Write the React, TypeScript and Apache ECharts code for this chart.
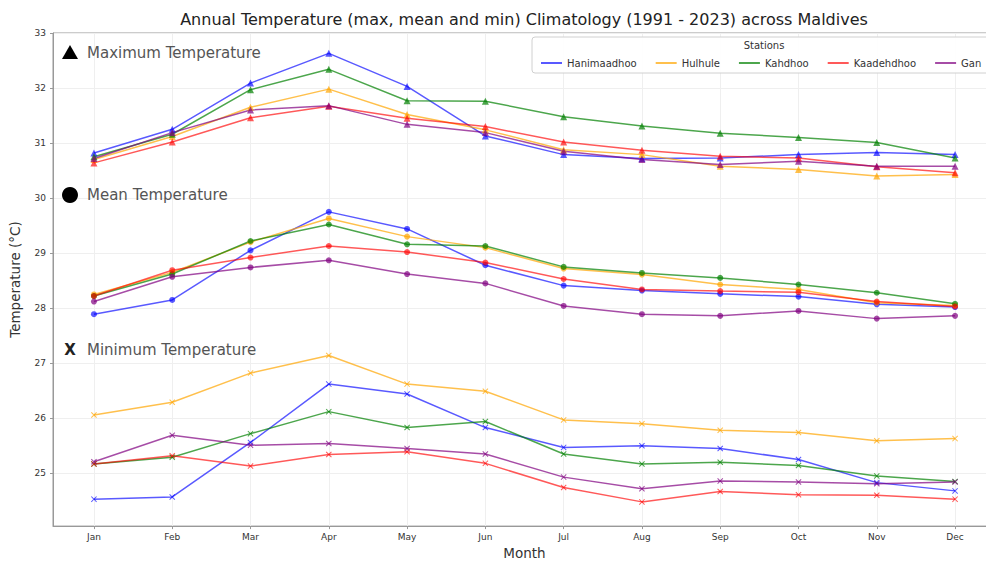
import React, { useEffect, useRef } from "react";
import * as echarts from "echarts";

const months = ["Jan", "Feb", "Mar", "Apr", "May", "Jun", "Jul", "Aug", "Sep", "Oct", "Nov", "Dec"];
const stations = ["Hanimaadhoo", "Hulhule", "Kahdhoo", "Kaadehdhoo", "Gan"];
const yTicks = [25, 26, 27, 28, 29, 30, 31, 32, 33];

const maxHanimaadhoo = [30.82, 31.25, 32.09, 32.63, 32.03, 31.13, 30.79, 30.72, 30.73, 30.79, 30.83, 30.79];
const maxHulhule = [30.7, 31.12, 31.65, 31.98, 31.52, 31.24, 30.88, 30.79, 30.58, 30.52, 30.4, 30.43];
const maxKahdhoo = [30.75, 31.16, 31.97, 32.34, 31.77, 31.76, 31.48, 31.31, 31.18, 31.1, 31.01, 30.73];
const maxKaadehdhoo = [30.64, 31.02, 31.46, 31.67, 31.45, 31.3, 31.02, 30.87, 30.76, 30.73, 30.57, 30.46];
const maxGan = [30.72, 31.19, 31.6, 31.68, 31.34, 31.19, 30.85, 30.7, 30.61, 30.67, 30.58, 30.58];

const meanHanimaadhoo = [27.89, 28.15, 29.05, 29.75, 29.44, 28.78, 28.41, 28.32, 28.26, 28.21, 28.07, 28.02];
const meanHulhule = [28.25, 28.65, 29.2, 29.63, 29.3, 29.1, 28.72, 28.61, 28.43, 28.34, 28.1, 28.05];
const meanKahdhoo = [28.22, 28.62, 29.22, 29.52, 29.16, 29.13, 28.75, 28.64, 28.55, 28.43, 28.28, 28.08];
const meanKaadehdhoo = [28.22, 28.69, 28.92, 29.13, 29.02, 28.83, 28.53, 28.34, 28.31, 28.29, 28.12, 28.03];
const meanGan = [28.12, 28.57, 28.74, 28.87, 28.62, 28.45, 28.04, 27.89, 27.86, 27.95, 27.81, 27.86];

const minHanimaadhoo = [24.53, 24.57, 25.56, 26.62, 26.44, 25.83, 25.47, 25.5, 25.45, 25.25, 24.83, 24.68];
const minHulhule = [26.06, 26.29, 26.82, 27.14, 26.62, 26.49, 25.97, 25.9, 25.78, 25.74, 25.59, 25.63];
const minKahdhoo = [25.17, 25.29, 25.72, 26.12, 25.83, 25.94, 25.35, 25.17, 25.2, 25.14, 24.95, 24.85];
const minKaadehdhoo = [25.17, 25.32, 25.13, 25.34, 25.39, 25.18, 24.74, 24.48, 24.67, 24.61, 24.6, 24.53];
const minGan = [25.21, 25.69, 25.51, 25.54, 25.45, 25.35, 24.93, 24.72, 24.86, 24.84, 24.81, 24.84];

const maxSeries = [maxHanimaadhoo, maxHulhule, maxKahdhoo, maxKaadehdhoo, maxGan];
const meanSeries = [meanHanimaadhoo, meanHulhule, meanKahdhoo, meanKaadehdhoo, meanGan];
const minSeries = [minHanimaadhoo, minHulhule, minKahdhoo, minKaadehdhoo, minGan];

const colors = [
  "rgba(0,0,255,0.65)",
  "rgba(255,165,0,0.7)",
  "rgba(0,128,0,0.7)",
  "rgba(255,0,0,0.65)",
  "rgba(128,0,128,0.7)",
];

const X_SYMBOL =
  "path://M0,1.2 L1.2,0 L5,3.8 L8.8,0 L10,1.2 L6.2,5 L10,8.8 L8.8,10 L5,6.2 L1.2,10 L0,8.8 L3.8,5 Z";

const FONT = "DejaVu Sans";

export default function App() {
  const ref = useRef<HTMLDivElement>(null);
  useEffect(() => {
    if (!ref.current) return;
    const chart = echarts.init(ref.current, undefined, { renderer: "svg" });
    const series: any[] = [];
    const groups = [
      { arr: maxSeries, symbol: "triangle", size: 7 },
      { arr: meanSeries, symbol: "circle", size: 6 },
      { arr: minSeries, symbol: X_SYMBOL, size: 6 },
    ];
    groups.forEach((g) => {
      g.arr.forEach((vals, i) => {
        series.push({
          name: stations[i],
          type: "line",
          data: vals.map((v, k) => [k, v]),
          symbol: g.symbol,
          symbolSize: g.size,
          showSymbol: true,
          lineStyle: { color: colors[i], width: 1.5 },
          itemStyle: { color: colors[i] },
          color: colors[i],
          z: 3,
        });
      });
    });

    chart.setOption({
      animation: false,
      backgroundColor: "#ffffff",
      textStyle: { fontFamily: FONT },
      grid: {
        left: 52,
        top: 33,
        right: 0,
        bottom: 30,
        show: true,
        borderColor: "#999",
        borderWidth: 1,
        containLabel: false,
      },
      legend: {
        data: stations,
        left: 536,
        top: 53,
        width: 900,
        icon: "rect",
        itemWidth: 21,
        itemHeight: 2,
        itemGap: 19,
        textStyle: { fontFamily: FONT, fontSize: 10, color: "#333" },
        z: 10,
      },
      xAxis: {
        type: "value",
        min: -0.523,
        max: 11.523,
        name: "Month",
        nameLocation: "middle",
        nameGap: 16,
        nameTextStyle: { fontFamily: FONT, fontSize: 13.5, color: "#333" },
        axisLine: { show: true, onZero: false, lineStyle: { color: "#999" } },
        axisTick: { show: true, customValues: months.map((_, i) => i), length: 3, lineStyle: { color: "#999" } },
        axisLabel: {
          customValues: months.map((_, i) => i),
          formatter: (v: number) => months[Math.round(v)] ?? "",
          fontSize: 9,
          color: "#333",
          margin: 6,
        },
        splitLine: { show: true, lineStyle: { color: "#efefef", width: 1 } },
      },
      yAxis: {
        type: "value",
        min: 24.04,
        max: 33,
        name: "Temperature (°C)",
        nameLocation: "middle",
        nameRotate: 90,
        nameGap: 31,
        nameTextStyle: { fontFamily: FONT, fontSize: 13.5, color: "#333" },
        axisLine: { show: true, onZero: false, lineStyle: { color: "#999" } },
        axisTick: { show: true, customValues: yTicks, length: 3, lineStyle: { color: "#999" } },
        axisLabel: {
          customValues: yTicks,
          fontSize: 9,
          color: "#333",
          margin: 7,
        },
        splitLine: { show: true, lineStyle: { color: "#efefef", width: 1 } },
      },
      graphic: [
        {
          type: "text",
          x: 524,
          y: 19,
          style: {
            text: "Annual Temperature (max, mean and min) Climatology (1991 - 2023) across Maldives",
            fontFamily: FONT,
            fontSize: 16,
            fill: "#222",
            textAlign: "center",
            textVerticalAlign: "middle",
          },
          z: 10,
        },
        {
          type: "rect",
          shape: { x: 532, y: 37, width: 480, height: 36, r: 3 },
          style: { fill: "rgba(255,255,255,0.9)", stroke: "#d0d0d0", lineWidth: 1 },
          z: 9,
        },
        {
          type: "text",
          x: 764,
          y: 45,
          style: {
            text: "Stations",
            fontFamily: FONT,
            fontSize: 10,
            fill: "#333",
            textAlign: "center",
            textVerticalAlign: "middle",
          },
          z: 10,
        },
        {
          type: "polygon",
          shape: { points: [[70, 45], [62, 59], [78, 59]] },
          style: { fill: "#000" },
          z: 10,
        },
        {
          type: "text",
          x: 87,
          y: 53,
          style: {
            text: "Maximum Temperature",
            fontFamily: FONT,
            fontSize: 15,
            fill: "#555",
            textVerticalAlign: "middle",
          },
          z: 10,
        },
        {
          type: "circle",
          shape: { cx: 70, cy: 195, r: 8 },
          style: { fill: "#000" },
          z: 10,
        },
        {
          type: "text",
          x: 87,
          y: 195,
          style: {
            text: "Mean Temperature",
            fontFamily: FONT,
            fontSize: 15,
            fill: "#555",
            textVerticalAlign: "middle",
          },
          z: 10,
        },
        {
          type: "text",
          x: 70,
          y: 350,
          style: {
            text: "X",
            fontFamily: FONT,
            fontSize: 15,
            fontWeight: "bold",
            fill: "#222",
            textAlign: "center",
            textVerticalAlign: "middle",
          },
          z: 10,
        },
        {
          type: "text",
          x: 87,
          y: 350,
          style: {
            text: "Minimum Temperature",
            fontFamily: FONT,
            fontSize: 15,
            fill: "#555",
            textVerticalAlign: "middle",
          },
          z: 10,
        },
      ],
      series,
    });
    return () => chart.dispose();
  }, []);
  return (
    <div style={{ width: 986, height: 565, position: "absolute", left: 0, top: 0, overflow: "hidden" }}>
      <div ref={ref} style={{ width: 996, height: 565, position: "absolute", left: 0, top: 0 }} />
    </div>
  );
}
